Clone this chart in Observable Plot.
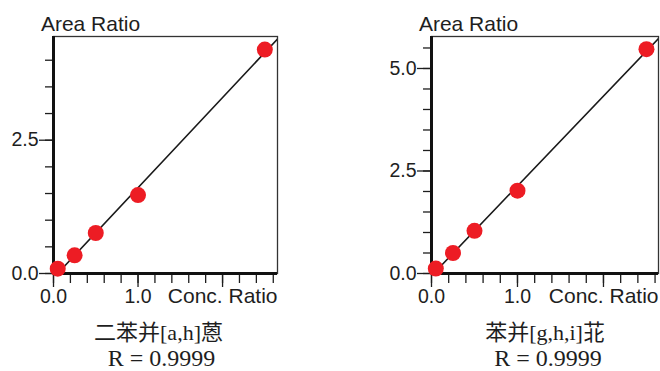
<!DOCTYPE html>
<html><head><meta charset="utf-8">
<script src="https://cdn.jsdelivr.net/npm/d3@7"></script>
<script src="https://cdn.jsdelivr.net/npm/@observablehq/plot@0.6"></script>
<style>
body{margin:0;background:#fff;}
#wrap{display:flex;width:660px;height:371px;}
#wrap svg{overflow:visible;display:block;}
</style></head><body><div id="wrap"></div>
<script>
// ---- data ----
const concRatio      = [0.05, 0.25, 0.5, 1.0, 2.5];
const areaRatioDBahA = [0.09, 0.34, 0.76, 1.47, 4.20];
const areaRatioBghiP = [0.12, 0.50, 1.04, 2.02, 5.47];
const compoundNames  = ["二苯并[a,h]蒽", "苯并[g,h,i]苝"];
const rValues        = ["0.9999", "0.9999"];
const xMajorTicks    = [0, 1, 2];
const xTickLabels    = ["0.0", "1.0", ""];
const yMajorTicksA   = [0, 2.5];
const yMajorTicksB   = [0, 2.5, 5.0];
const yTickLabelsA   = ["0.0", "2.5"];
const yTickLabelsB   = ["0.0", "2.5", "5.0"];
const xLabel = "Conc. Ratio";
const yLabel = "Area Ratio";

function fit(xs, ys) {
  const mx = d3.mean(xs), my = d3.mean(ys);
  const sxy = d3.sum(xs, (x, i) => (x - mx) * (ys[i] - my));
  const sxx = d3.sum(xs, x => (x - mx) ** 2);
  const m = sxy / sxx, b = my - m * mx;
  return {m, b};
}

function chart({ys, name, r, yMajor, yLabels, xMax, yMax, marginLeft, marginRight, capDx}) {
  const data = concRatio.map((x, i) => ({x, y: ys[i]}));
  const {m, b} = fit(concRatio, ys);
  const x0 = Math.max(0, -b / m);
  const fitLine = [x0, xMax].map(x => ({x, y: m * x + b}));
  const xMinor = d3.range(0, xMax, 0.2);
  const yMinor = d3.range(0, yMax, 0.5);
  return Plot.plot({
    width: 330, height: 371,
    marginLeft, marginRight, marginTop: 36, marginBottom: 98,
    style: {fontFamily: "'Liberation Sans', Arial, sans-serif", fontSize: "19.5px", color: "#1e1e1e", background: "#fff"},
    x: {domain: [0, xMax]},
    y: {domain: [0, yMax]},
    marks: [
      Plot.frame({stroke: "#333", strokeWidth: 1.3}),
      Plot.axisX(xMinor, {tickSize: 10, tickFormat: () => "", label: null, strokeWidth: 1.3}),
      Plot.axisX(xMajorTicks, {tickSize: 14, tickPadding: 2, fontSize: 19.5, tickFormat: d => xTickLabels[xMajorTicks.indexOf(d)], label: null, strokeWidth: 1.3}),
      Plot.axisY(yMinor, {tickSize: 8, tickFormat: () => "", label: null, strokeWidth: 1.3}),
      Plot.axisY(yMajor, {tickSize: 14, tickPadding: 1, fontSize: 19.5, tickFormat: d => yLabels[yMajor.indexOf(d)], label: null, strokeWidth: 1.3}),
      Plot.ruleX([0], {stroke: "#111", strokeWidth: 3}),
      Plot.ruleY([0], {stroke: "#111", strokeWidth: 3}),
      Plot.line(fitLine, {x: "x", y: "y", stroke: "#1a1a1a", strokeWidth: 1.6, clip: true}),
      Plot.dot(data, {x: "x", y: "y", r: 8, fill: "#ed1c24", stroke: "none"}),
      Plot.text([yLabel], {frameAnchor: "top-left", textAnchor: "start", lineAnchor: "bottom", dx: -12.6, dy: -6, fontSize: 21}),
      Plot.text([xLabel], {frameAnchor: "bottom-right", textAnchor: "end", lineAnchor: "bottom", dy: 29.7, fontSize: 21}),
      Plot.text([name], {frameAnchor: "bottom", lineAnchor: "bottom", dx: capDx, dy: 66, fontSize: 22,
        fontFamily: "'Liberation Serif', 'Noto Sans CJK SC', serif"}),
      Plot.text(["R = " + r], {frameAnchor: "bottom", lineAnchor: "bottom", dx: capDx + 3, dy: 92.5, fontSize: 24,
        fontFamily: "'Liberation Serif', 'Times New Roman', serif"})
    ]
  });
}

const wrap = document.getElementById("wrap");
wrap.append(chart({ys: areaRatioDBahA, name: compoundNames[0], r: rValues[0], yMajor: yMajorTicksA, yLabels: yTickLabelsA,
  xMax: 2.65, yMax: 4.445, marginLeft: 53, marginRight: 53, capDx: -7}));
wrap.append(chart({ys: areaRatioBghiP, name: compoundNames[1], r: rValues[1], yMajor: yMajorTicksB, yLabels: yTickLabelsB,
  xMax: 2.64, yMax: 5.78, marginLeft: 101, marginRight: 2, capDx: 0}));
</script></body></html>
